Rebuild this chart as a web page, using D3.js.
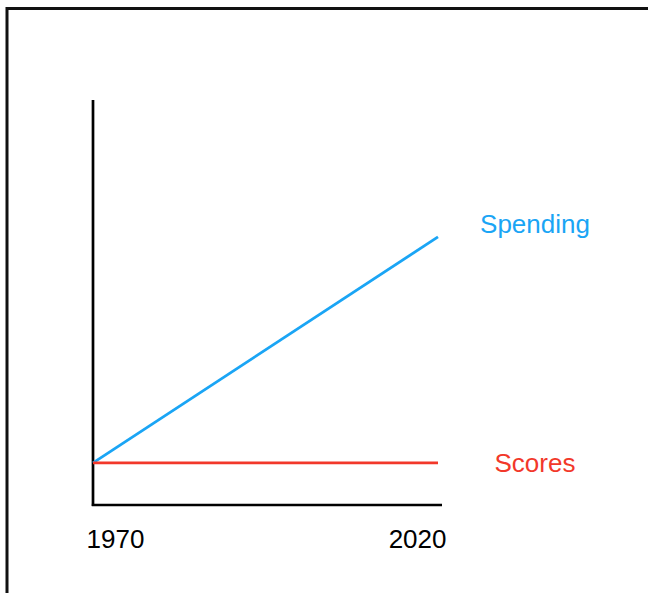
<!DOCTYPE html>
<html>
<head>
<meta charset="utf-8">
<script src="https://cdn.jsdelivr.net/npm/d3@7"></script>
<style>
  body { margin: 0; background: #fff; }
  svg text { font-family: "Liberation Sans", Arial, sans-serif; }
</style>
</head>
<body>
<script>
const years = [1970, 2020];
const spending = [10.4, 66.2];
const scores = [10.4, 10.4];
const seriesNames = ['Spending', 'Scores'];
const colors = ['#1aa5f5', '#f2382a'];

const W = 648, H = 593;
const svg = d3.select('body').append('svg')
  .attr('width', W)
  .attr('height', H);

// outer frame, runs off the right/bottom edges
svg.append('rect')
  .attr('x', 7)
  .attr('y', 8.5)
  .attr('width', 700)
  .attr('height', 700)
  .attr('fill', 'none')
  .attr('stroke', '#111')
  .attr('stroke-width', 3);

const xScale = d3.scaleLinear().domain([1970, 2020]).range([93, 438]);
const yScale = d3.scaleLinear().domain([0, 100]).range([505, 100]);

// axes as plain lines
svg.append('line')
  .attr('x1', xScale(1970)).attr('x2', xScale(1970))
  .attr('y1', yScale(100)).attr('y2', yScale(0) + 1)
  .attr('stroke', '#000').attr('stroke-width', 2.7);
svg.append('line')
  .attr('x1', xScale(1970) - 1.2).attr('x2', xScale(2020) + 4)
  .attr('y1', yScale(0)).attr('y2', yScale(0))
  .attr('stroke', '#000').attr('stroke-width', 2.7);

const xAxis = d3.axisBottom(xScale)
  .tickValues(years)
  .tickSize(0)
  .tickPadding(0)
  .tickFormat(d3.format('d'));

const gx = svg.append('g')
  .attr('transform', `translate(0, ${yScale(0)})`)
  .call(xAxis);
gx.select('.domain').remove();
gx.selectAll('text')
  .attr('y', 43)
  .attr('dy', 0)
  .style('font-size', '26px')
  .attr('fill', '#000')
  .attr('text-anchor', (d, i) => i === 0 ? 'start' : 'end')
  .attr('x', (d, i) => i === 0 ? -7 : 8);

const line = d3.line()
  .x((d, i) => xScale(years[i]))
  .y(d => yScale(d));

[spending, scores].forEach((vals, k) => {
  svg.append('path')
    .datum(vals)
    .attr('d', line)
    .attr('fill', 'none')
    .attr('stroke', colors[k])
    .attr('stroke-width', 2.8);

  svg.append('text')
    .attr('x', 535)
    .attr('y', yScale(vals[vals.length - 1]) + (k === 0 ? -4 : 9))
    .attr('text-anchor', 'middle')
    .style('font-size', '26px')
    .attr('fill', colors[k])
    .text(seriesNames[k]);
});
</script>
</body>
</html>
